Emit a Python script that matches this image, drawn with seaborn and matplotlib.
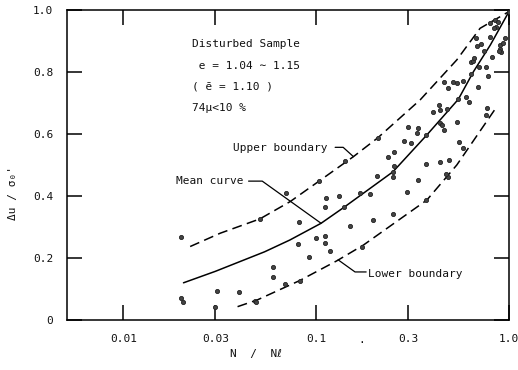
import matplotlib
matplotlib.use("Agg")
import matplotlib.pyplot as plt
import seaborn as sns
import pandas as pd

# ---------------- data ----------------
pts_x = [0.020, 0.020, 0.0205, 0.0306, 0.030, 0.040, 0.048, 0.049, 0.051, 0.060,
         0.060, 0.069, 0.070, 0.080, 0.081, 0.082, 0.092, 0.100, 0.104, 0.111,
         0.111, 0.112, 0.111, 0.118, 0.132, 0.139, 0.141, 0.150, 0.169, 0.172,
         0.191, 0.198, 0.206, 0.209, 0.237, 0.250, 0.250, 0.254, 0.254, 0.250,
         0.286, 0.297, 0.298, 0.310, 0.332, 0.339, 0.339, 0.370, 0.370, 0.371,
         0.405, 0.434, 0.439, 0.439, 0.448, 0.462, 0.439, 0.462, 0.476, 0.485,
         0.480, 0.470, 0.491, 0.515, 0.536, 0.540, 0.546, 0.553, 0.580, 0.580,
         0.600, 0.620, 0.635, 0.648, 0.635, 0.660, 0.672, 0.680, 0.694, 0.700,
         0.716, 0.742, 0.760, 0.766, 0.760, 0.780, 0.800, 0.800, 0.820, 0.846,
         0.880, 0.860, 0.840, 0.898, 0.934, 0.953, 0.900, 0.910, 0.890, 1.000]
pts_y = [0.268, 0.071, 0.058, 0.095, 0.042, 0.090, 0.062, 0.058, 0.326, 0.172,
         0.138, 0.115, 0.409, 0.244, 0.317, 0.127, 0.204, 0.263, 0.449, 0.272,
         0.249, 0.395, 0.363, 0.223, 0.400, 0.363, 0.514, 0.302, 0.409, 0.237,
         0.405, 0.323, 0.465, 0.588, 0.527, 0.478, 0.460, 0.543, 0.498, 0.341,
         0.578, 0.412, 0.622, 0.570, 0.602, 0.618, 0.452, 0.597, 0.503, 0.387,
         0.672, 0.694, 0.677, 0.637, 0.629, 0.613, 0.511, 0.769, 0.681, 0.747,
         0.462, 0.471, 0.516, 0.769, 0.766, 0.640, 0.712, 0.575, 0.772, 0.554,
         0.720, 0.704, 0.831, 0.835, 0.794, 0.846, 0.909, 0.885, 0.753, 0.815,
         0.889, 0.869, 0.815, 0.683, 0.661, 0.788, 0.957, 0.914, 0.849, 0.968,
         0.960, 0.946, 0.943, 0.887, 0.893, 0.909, 0.874, 0.866, 0.868, 0.993]

mean_x = [0.0205, 0.030, 0.054, 0.073, 0.106, 0.139, 0.250, 0.375, 0.546, 0.654, 0.800, 1.000]
mean_y = [0.120, 0.157, 0.220, 0.258, 0.312, 0.363, 0.478, 0.597, 0.712, 0.801, 0.887, 0.995]

upper_x = [0.0222, 0.0318, 0.051, 0.0733, 0.104, 0.156, 0.209, 0.346, 0.536, 0.708, 1.000]
upper_y = [0.237, 0.280, 0.326, 0.382, 0.449, 0.527, 0.588, 0.710, 0.839, 0.941, 0.995]

lower_x = [0.0391, 0.0496, 0.082, 0.128, 0.176, 0.375, 0.536, 0.864]
lower_y = [0.043, 0.065, 0.127, 0.191, 0.242, 0.387, 0.500, 0.688]

x_ticks = [0.01, 0.03, 0.1, 0.3, 1.0]
x_tick_labels = ["0.01", "0.03", "0.1", "0.3", "1.0"]
y_ticks = [0, 0.2, 0.4, 0.6, 0.8, 1.0]
y_tick_labels = ["0", "0.2", "0.4", "0.6", "0.8", "1.0"]

info_lines = ["Disturbed Sample", " e = 1.04 \u223c 1.15", "( \u0113 = 1.10 )", "74\u03bc<10 %"]

# ---------------- figure ----------------
sns.set_theme(style="ticks")
FAM = ["DejaVu Sans Mono", "DejaVu Sans"]
plt.rcParams["font.family"] = FAM

fig = plt.figure(figsize=(5.18, 3.70), dpi=100)
ax = fig.add_axes([67 / 518, 50 / 370, (509 - 67) / 518, (320 - 10) / 370])
ax.set_xscale("log")

lw = 1.1
df_pts = pd.DataFrame({"x": pts_x, "y": pts_y})
sns.scatterplot(data=df_pts, x="x", y="y", ax=ax, s=9, color="#444444",
                edgecolor="#222222", linewidth=0.6, zorder=3)

sns.lineplot(x=mean_x, y=mean_y, ax=ax, color="black", linewidth=lw,
             sort=False, estimator=None)
sns.lineplot(x=upper_x, y=upper_y, ax=ax, color="black", linewidth=lw,
             sort=False, estimator=None)
sns.lineplot(x=lower_x, y=lower_y, ax=ax, color="black", linewidth=lw,
             sort=False, estimator=None)
ax.lines[1].set_dashes((6.5, 3.5))
ax.lines[2].set_dashes((6.5, 3.5))

ax.set_xlim(0.0051, 1.0)
ax.set_ylim(0, 1.0)

ax.set_xticks(x_ticks)
ax.set_xticklabels(x_tick_labels)
ax.set_yticks(y_ticks)
ax.set_yticklabels(y_tick_labels)
ax.minorticks_off()
ax.tick_params(axis="both", which="major", direction="in", length=11, width=1.1,
               labelsize=8, top=True, right=True, color="black", labelcolor="#111111")
ax.tick_params(axis="x", pad=10)
ax.tick_params(axis="y", pad=10)
for s in ax.spines.values():
    s.set_linewidth(1.1)
    s.set_color("black")
    s.set_visible(True)
ax.set_xlabel("")
ax.set_ylabel("")

# text block
ys_info = [0.890, 0.820, 0.752, 0.684]
for t, yy in zip(info_lines, ys_info):
    ax.text(0.0228, yy, t, fontsize=8, ha="left", va="center", color="#111111")

# labels with leaders
ax.text(0.114, 0.555, "Upper boundary", fontsize=8, ha="right", va="center", color="#111111")
ax.plot([0.1254, 0.138, 0.156], [0.557, 0.557, 0.527], color="black", lw=0.9)

ax.text(0.0418, 0.447, "Mean curve", fontsize=8, ha="right", va="center", color="#111111")
ax.plot([0.0446, 0.0525, 0.106], [0.448, 0.448, 0.312], color="black", lw=0.9)

ax.text(0.186, 0.148, "Lower boundary", fontsize=8, ha="left", va="center", color="#111111")
ax.plot([0.130, 0.159, 0.1816], [0.194, 0.155, 0.155], color="black", lw=0.9)

# axis labels
fig.text(13 / 518, 1 - 193 / 370, "\u0394u / \u03c3\u2080'", rotation=90, fontsize=8,
         ha="center", va="center", color="#111111", family=FAM)
fig.text(256 / 518, 1 - 354 / 370, "N  /  N\u2113", fontsize=8,
         ha="center", va="center", color="#111111", family=FAM)
fig.text(362 / 518, 1 - 340 / 370, ".", fontsize=8, ha="center", va="center", color="#111111")

fig.savefig("out.png", dpi=100)
